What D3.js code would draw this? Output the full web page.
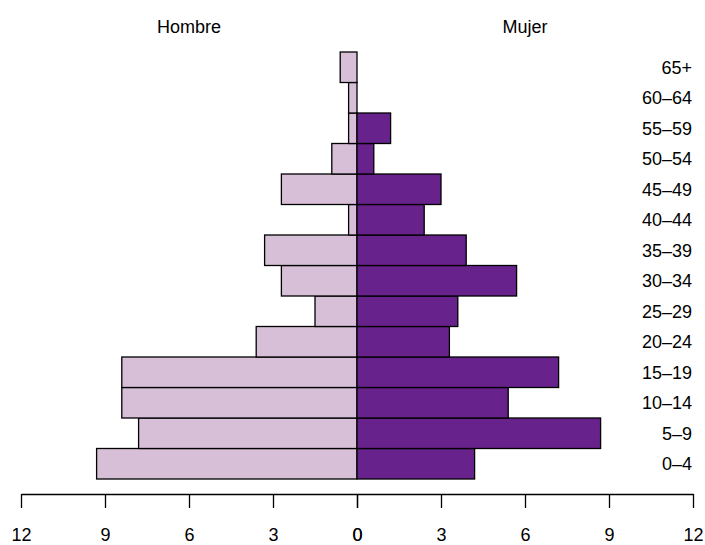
<!DOCTYPE html>
<html>
<head>
<meta charset="utf-8">
<script src="https://cdn.jsdelivr.net/npm/d3@7.9.0/dist/d3.min.js"></script>
<style>
  body { margin: 0; background: #fff; }
  svg text { font-family: "Liberation Sans", Arial, sans-serif; fill: #000; }
</style>
</head>
<body>
<div id="chart"></div>
<script>
// age groups, bottom to top
const ages = ['0–4', '5–9', '10–14', '15–19', '20–24', '25–29', '30–34',
    '35–39', '40–44', '45–49', '50–54', '55–59', '60–64', '65+'];
const hombre = [9.3, 7.8, 8.4, 8.4, 3.6, 1.5, 2.7, 3.3, 0.3, 2.7, 0.9, 0.3, 0.3, 0.6];
const mujer = [4.2, 8.7, 5.4, 7.2, 3.3, 3.6, 5.7, 3.9, 2.4, 3.0, 0.6, 1.2, 0, 0];
const ticks = [0, 3, 6, 9, 12];
const sides = ['Hombre', 'Mujer'];

const width = 705;
const height = 545;
const fontSize = 18;

const rows = ages.map((age, i) => ({ age, h: hombre[i], m: mujer[i] }));

const svg = d3.select('#chart')
    .append('svg')
    .attr('width', width)
    .attr('height', height);

const xScale = d3.scaleLinear().domain([-12, 12]).range([21, 693]);
const yScale = d3.scaleBand()
    .domain(ages.slice().reverse())
    .range([52, 479])
    .padding(0);

// male side (left)
svg.append('g')
    .selectAll('rect')
    .data(rows)
    .join('rect')
    .attr('x', (d) => xScale(-d.h))
    .attr('y', (d) => yScale(d.age))
    .attr('width', (d) => xScale(0) - xScale(-d.h))
    .attr('height', yScale.bandwidth())
    .attr('fill', '#D8BFD8')
    .attr('stroke', '#000')
    .attr('stroke-width', 1.3);

// female side (right)
svg.append('g')
    .selectAll('rect')
    .data(rows)
    .join('rect')
    .attr('x', xScale(0))
    .attr('y', (d) => yScale(d.age))
    .attr('width', (d) => xScale(d.m) - xScale(0))
    .attr('height', yScale.bandwidth())
    .attr('fill', '#68228B')
    .attr('stroke', '#000')
    .attr('stroke-width', 1.3);

// age labels
svg.append('g')
    .selectAll('text')
    .data(ages)
    .join('text')
    .attr('x', 692)
    .attr('y', (d) => yScale(d) + yScale.bandwidth() / 2)
    .attr('dy', '0.35em')
    .attr('text-anchor', 'end')
    .style('font-size', fontSize + 'px')
    .text((d) => d);

// side titles
svg.append('g')
    .selectAll('text')
    .data(sides)
    .join('text')
    .attr('x', (d, i) => xScale(i === 0 ? -6 : 6))
    .attr('y', 33)
    .attr('text-anchor', 'middle')
    .style('font-size', fontSize + 'px')
    .text((d) => d);

// axes: one per side so both zeros are drawn
const leftScale = d3.scaleLinear().domain([12, 0]).range([xScale(-12), xScale(0)]);
const rightScale = d3.scaleLinear().domain([0, 12]).range([xScale(0), xScale(12)]);

[leftScale, rightScale].forEach((s) => {
    const g = svg.append('g')
        .attr('transform', 'translate(0, 494)')
        .call(d3.axisBottom(s)
            .tickValues(ticks)
            .tickFormat(d3.format('d'))
            .tickSize(14)
            .tickSizeOuter(0)
            .tickPadding(20));
    g.select('.domain').attr('stroke', '#000').attr('stroke-width', 1.3);
    g.selectAll('.tick line').attr('stroke', '#000').attr('stroke-width', 1.3);
    g.selectAll('.tick text')
        .style('font-size', fontSize + 'px')
        .style('font-family', '"Liberation Sans", Arial, sans-serif')
        .attr('fill', '#000');
});
</script>
</body>
</html>
